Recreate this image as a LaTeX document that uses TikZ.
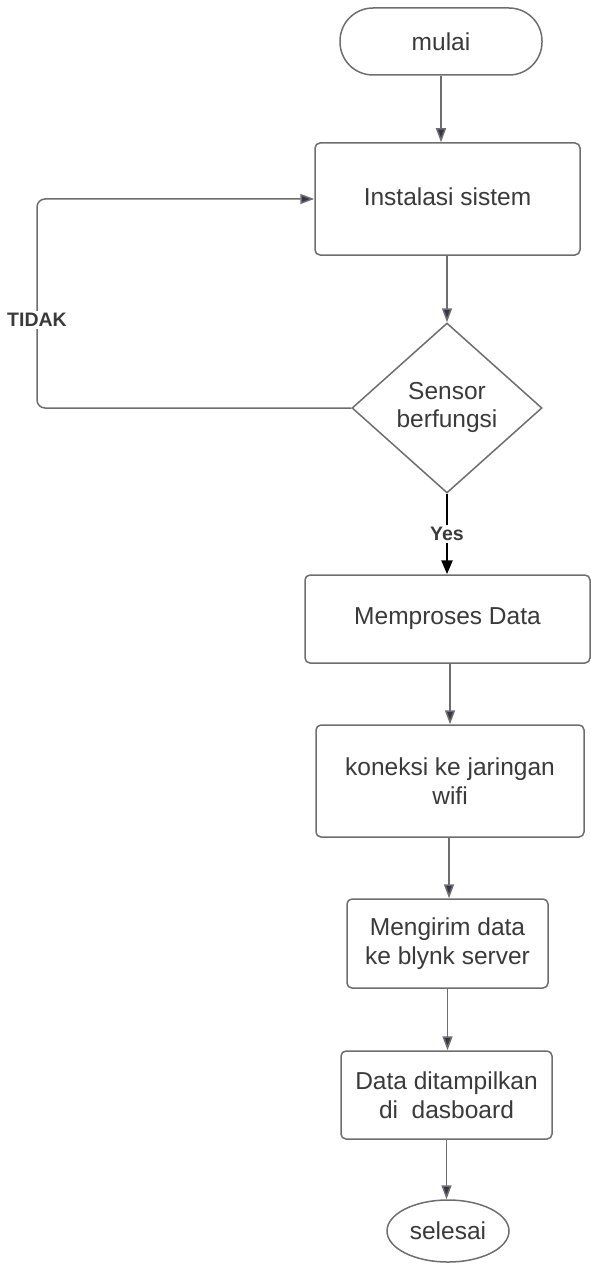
\documentclass[tikz,border=0pt]{standalone}
\usepackage{fontspec}
\setmainfont{Liberation Sans}
\usetikzlibrary{arrows.meta,shapes.geometric}
\definecolor{linegray}{HTML}{6E6E6E}
\definecolor{tipnavy}{HTML}{33374A}
\definecolor{txtgray}{HTML}{3A3A3A}
\tikzset{
  boxtext/.style={font=\fontsize{24.5}{28.5}\selectfont, text=txtgray, align=center},
  procbox/.style={boxtext, draw=linegray, line width=1.5pt, rounded corners=5pt, inner sep=0pt, fill=white},
  termbox/.style={boxtext, draw=linegray, line width=1.5pt, inner sep=0pt, fill=white},
  decbox/.style={boxtext, draw=linegray, line width=1.5pt, shape=diamond, inner sep=0pt, fill=white},
  conn/.style={draw=linegray, line width=1.5pt, -{Triangle[length=14pt,width=10pt,fill=tipnavy]}},
  yesconn/.style={draw=black, line width=2.6pt, -{Triangle[length=14pt,width=11pt,fill=black]}},
  lbl/.style={font=\fontsize{19.5}{21}\selectfont\bfseries, text=txtgray, fill=white, inner sep=2pt}
}
\begin{document}
\begin{tikzpicture}[x=1pt,y=-1pt]
\useasboundingbox (0,0) rectangle (591,1265);

\node[termbox, rounded corners=33pt, minimum width=202pt, minimum height=67pt] (mulai) at (441,41.5) {mulai};
\node[procbox, minimum width=265pt, minimum height=112pt] (inst) at (447.5,199) {\raisebox{4pt}{Instalasi sistem}};
\node[decbox, minimum width=190pt, minimum height=170pt] (sensor) at (447,408) {\raisebox{3pt}{\begin{tabular}{@{}c@{}}Sensor\\berfungsi\end{tabular}}};
\node[procbox, minimum width=285pt, minimum height=88pt] (mem) at (447.5,619) {Memproses Data};
\node[procbox, minimum width=268pt, minimum height=112pt] (kon) at (450,781) {koneksi ke jaringan\\wifi};
\node[procbox, minimum width=201pt, minimum height=89pt] (kirim) at (447.5,943.5) {Mengirim data\\ke blynk server};
\node[procbox, minimum width=211pt, minimum height=88pt] (tampil) at (446.5,1095) {Data ditampilkan\\di\ \ dasboard};
\node[termbox, shape=ellipse, minimum width=122pt, minimum height=62pt] (selesai) at (448,1231) {selesai};

\coordinate (lb) at (37,408);
\coordinate (lt) at (37,199);

\draw[conn] (mulai.south) -- (mulai.south |- inst.north);
\draw[conn] (inst.south -| sensor.north) -- (sensor.north);
\draw[yesconn] (sensor.south) -- (sensor.south |- mem.north) node[midway, lbl] {Yes};
\draw[conn] (mem.south -| kon.north) -- (kon.north);
\draw[conn] (kon.south -| 449,0) -- (kirim.north -| 449,0);
\draw[conn] (kirim.south) -- (kirim.south |- tampil.north);
\draw[conn] (tampil.south) -- (tampil.south |- selesai.north);
\draw[conn, rounded corners=8pt] (sensor.west) -- (lb) -- (lt) -- (inst.west);
\node[lbl] (tidak) at (37,320) {TIDAK};
\end{tikzpicture}
\end{document}
